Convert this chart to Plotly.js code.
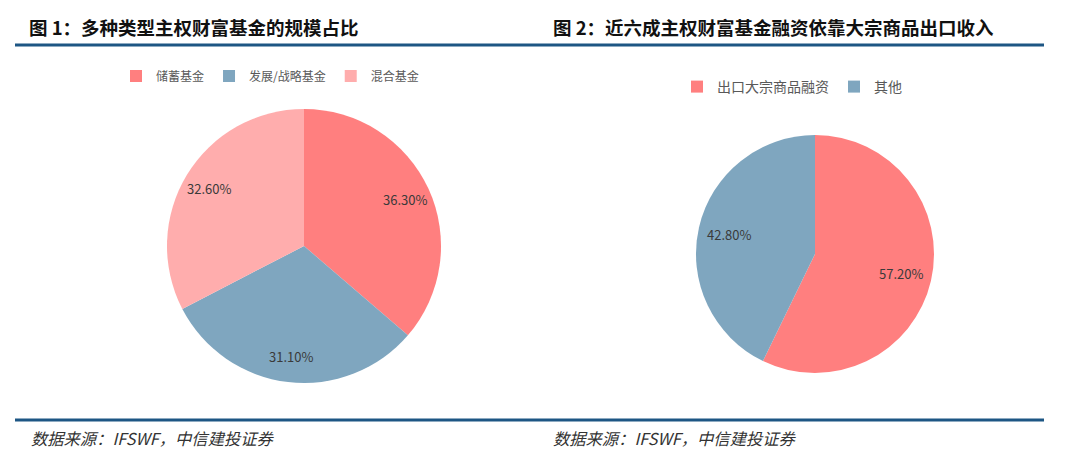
<!DOCTYPE html>
<html><head><meta charset="utf-8">
<script src="https://cdn.plot.ly/plotly-3.0.1.min.js"></script>
<style>body{margin:0;background:#fff}#c{width:1080px;height:461px}</style>
</head><body><div id="c"></div>
<script>
const labels1 = ['储蓄基金', '发展/战略基金', '混合基金'];
const values1 = [36.3, 31.1, 32.6];
const colors1 = ['#FF7F7F', '#7FA6BF', '#FFADAD'];
const labels2 = ['出口大宗商品融资', '其他'];
const values2 = [57.2, 42.8];
const colors2 = ['#FF7F7F', '#7FA6BF'];
const title1 = '图 1：多种类型主权财富基金的规模占比';
const title2 = '图 2：近六成主权财富基金融资依靠大宗商品出口收入';
const source = '数据来源：IFSWF，中信建投证券';

const W = 1080, H = 461;
const px = x => x / W, py = y => 1 - y / H;
const cjk = '"Noto Sans CJK SC", sans-serif';
const lineCol = '#1D5684';

// pie geometry (pixels) used for domains and label placement
const pies = [
  {cx: 304, cy: 246, r: 137, f: 0.81, labels: labels1, values: values1, colors: colors1, legend: 'legend'},
  {cx: 815, cy: 254, r: 119, f: 0.74, labels: labels2, values: values2, colors: colors2, legend: 'legend2'}
];

const traces = pies.map(p => ({
  type: 'pie', labels: p.labels, values: p.values, sort: false, direction: 'clockwise', rotation: 0,
  marker: {colors: p.colors}, textinfo: 'none',
  domain: {x: [px(p.cx - p.r), px(p.cx + p.r)], y: [py(p.cy + p.r), py(p.cy - p.r)]},
  legend: p.legend, hoverinfo: 'label+value'
}));

// data labels derived from the values (mid-angle of each slice)
const labelAnns = [];
pies.forEach(p => {
  const tot = p.values.reduce((a, b) => a + b, 0);
  let cum = 0;
  p.values.forEach(v => {
    const mid = (cum + v / 2) / tot * 2 * Math.PI;
    cum += v;
    labelAnns.push({
      text: v.toFixed(2) + '%', xref: 'paper', yref: 'paper',
      x: px(p.cx + p.r * p.f * Math.sin(mid)), y: py(p.cy - p.r * p.f * Math.cos(mid)),
      xanchor: 'center', yanchor: 'middle', showarrow: false,
      font: {family: cjk, size: 13, color: '#3a3a3a'}
    });
  });
});

const layout = {
  width: W, height: H, margin: {l: 0, r: 0, t: 0, b: 0},
  paper_bgcolor: '#fff', plot_bgcolor: '#fff',
  font: {family: cjk, color: '#595959'},
  legend: {orientation: 'h', x: px(270), xanchor: 'center', y: py(76), yanchor: 'middle',
    font: {size: 12, color: '#595959'}, itemclick: false, traceorder: 'normal', itemwidth: 30},
  legend2: {orientation: 'h', x: px(792), xanchor: 'center', y: py(87), yanchor: 'middle',
    font: {size: 14, color: '#595959'}, itemclick: false, traceorder: 'normal', itemwidth: 30},
  shapes: [
    {type: 'line', xref: 'paper', yref: 'paper', x0: px(15), x1: px(1044), y0: py(45), y1: py(45), line: {color: lineCol, width: 3}},
    {type: 'line', xref: 'paper', yref: 'paper', x0: px(15), x1: px(1044), y0: py(420), y1: py(420), line: {color: lineCol, width: 3}}
  ],
  annotations: labelAnns.concat([
    {text: '<b>' + title1 + '</b>', xref: 'paper', yref: 'paper', x: px(27), y: py(27), xanchor: 'left', yanchor: 'middle', showarrow: false, font: {size: 18.5, color: '#111'}},
    {text: '<b>' + title2 + '</b>', xref: 'paper', yref: 'paper', x: px(551), y: py(27), xanchor: 'left', yanchor: 'middle', showarrow: false, font: {size: 18.5, color: '#111'}},
    {text: '<i>' + source + '</i>', xref: 'paper', yref: 'paper', x: px(29), y: py(438), xanchor: 'left', yanchor: 'middle', showarrow: false, font: {size: 16.3, color: '#333'}},
    {text: '<i>' + source + '</i>', xref: 'paper', yref: 'paper', x: px(551), y: py(438), xanchor: 'left', yanchor: 'middle', showarrow: false, font: {size: 16.3, color: '#333'}}
  ])
};
Plotly.newPlot('c', traces, layout, {displayModeBar: false, staticPlot: true});
</script></body></html>
